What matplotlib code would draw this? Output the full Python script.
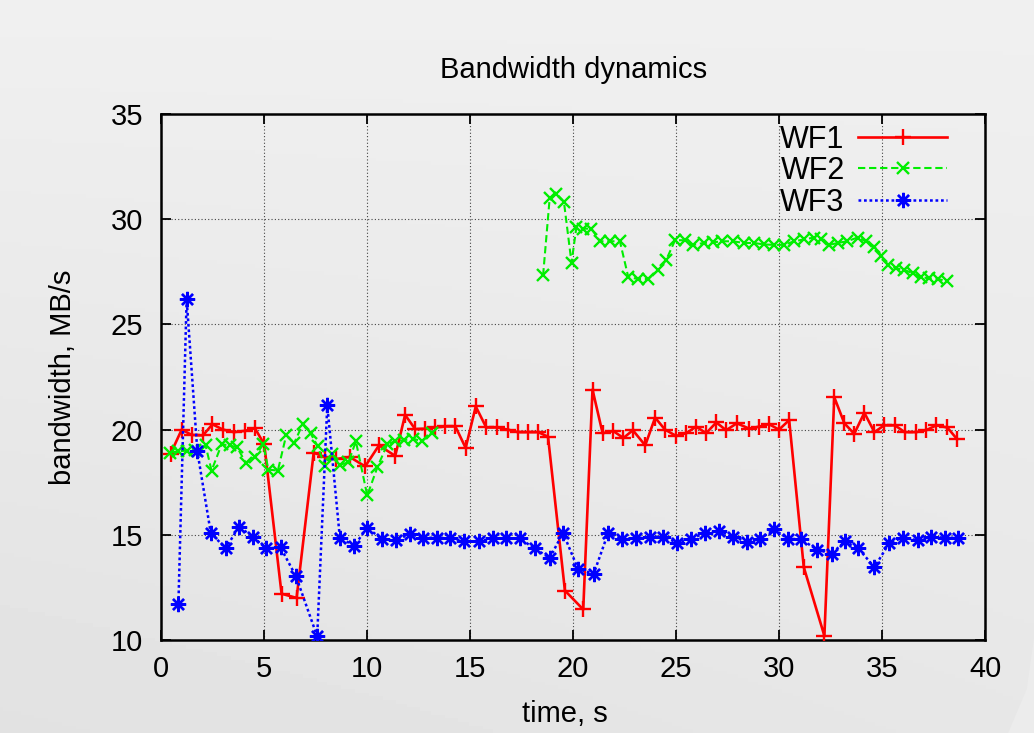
import numpy as np
import matplotlib
matplotlib.use("Agg")
import matplotlib.pyplot as plt
from matplotlib.patches import Polygon

plt.rcParams['font.family'] = ['Liberation Sans', 'DejaVu Sans']

# ---------------- data ----------------
wf1_t = [0.45, 0.99, 1.47, 2.02, 2.48, 3.0, 3.52, 4.06, 4.55, 5.0,
         5.84, 6.57, 7.4, 7.95, 8.5, 9.15, 9.9, 10.57, 11.36, 11.84,
         12.33, 12.8, 13.3, 13.8, 14.28, 14.78, 15.27, 15.78, 16.3, 16.83,
         17.32, 17.8, 18.3, 18.78, 19.6, 20.49, 20.94, 21.43, 21.95, 22.44,
         22.9, 23.5, 23.98, 24.46, 25.0, 25.49, 25.97, 26.46, 26.95, 27.43,
         27.95, 28.54, 29.03, 29.5, 30.0, 30.49, 31.2, 32.2, 32.68, 33.17,
         33.65, 34.14, 34.63, 35.1, 35.63, 36.1, 36.65, 37.14, 37.63, 38.17,
         38.65]
wf1_bw = [18.85, 20.0, 19.75, 19.72, 20.25, 20.0, 19.88, 19.94, 20.06, 19.3,
          12.2, 12.0, 18.9, 18.7, 18.6, 18.7, 18.25, 19.25, 18.75, 20.7,
          20.02, 20.04, 20.1, 20.15, 20.15, 19.13, 21.1, 20.1, 20.1, 20.0,
          19.88, 19.88, 19.88, 19.66, 12.35, 11.45, 21.9, 19.83, 19.93, 19.6,
          19.97, 19.25, 20.57, 20.0, 19.7, 19.83, 20.14, 19.83, 20.34, 19.97,
          20.3, 20.05, 20.14, 20.26, 20.0, 20.45, 13.46, 10.2, 21.54, 20.3,
          19.8, 20.8, 19.88, 20.2, 20.2, 19.88, 19.88, 19.97, 20.2, 20.1,
          19.54]

wf2_t_a = [0.42, 0.83, 1.23, 1.66, 2.15, 2.44, 2.93, 3.33, 3.69, 4.11,
           4.55, 4.95, 5.2, 5.66, 6.07, 6.45, 6.86, 7.25, 7.6, 7.94,
           8.27, 8.67, 9.08, 9.45, 10.0, 10.49, 10.98, 11.35, 11.79, 12.24,
           12.65, 13.14]
wf2_bw_a = [18.9, 18.97, 19.0, 19.05, 19.25, 18.05, 19.3, 19.25, 19.15, 18.4,
            18.72, 19.3, 18.1, 18.05, 19.75, 19.35, 20.25, 19.82, 19.2, 18.25,
            18.84, 18.33, 18.44, 19.44, 16.87, 18.2, 19.32, 19.44, 19.5, 19.57,
            19.44, 19.84]
wf2_t_b = [18.54, 18.86, 19.19, 19.55, 19.92, 20.16, 20.49, 20.89, 21.3, 21.79,
           22.27, 22.68, 23.17, 23.65, 24.14, 24.51, 24.95, 25.41, 25.84, 26.33,
           26.78, 27.25, 27.75, 28.3, 28.78, 29.27, 29.76, 30.24, 30.73, 31.22,
           31.7, 32.03, 32.44, 32.84, 33.3, 33.81, 34.22, 34.63, 34.95, 35.28,
           35.68, 36.09, 36.5, 36.9, 37.3, 37.71, 38.15]
wf2_bw_b = [27.33, 31.0, 31.2, 30.84, 27.93, 29.64, 29.55, 29.55, 28.95, 28.95,
            28.95, 27.24, 27.16, 27.16, 27.59, 28.05, 29.0, 29.0, 28.78, 28.87,
            28.9, 28.95, 28.95, 28.87, 28.87, 28.8, 28.78, 28.78, 28.95, 29.04,
            29.13, 29.04, 28.78, 28.87, 28.95, 29.13, 28.95, 28.7, 28.27, 27.84,
            27.67, 27.59, 27.42, 27.24, 27.19, 27.16, 27.05]

wf3_t = [0.83, 1.23, 1.75, 2.4, 3.12, 3.77, 4.47, 5.08, 5.79, 6.54,
         7.57, 8.06, 8.67, 9.37, 10.0, 10.7, 11.39, 12.07, 12.72, 13.37,
         14.03, 14.72, 15.42, 16.1, 16.75, 17.4, 18.13, 18.86, 19.51, 20.24,
         21.0, 21.7, 22.35, 23.05, 23.73, 24.38, 25.06, 25.71, 26.41, 27.06,
         27.78, 28.43, 29.07, 29.76, 30.45, 31.05, 31.83, 32.55, 33.2, 33.85,
         34.63, 35.36, 36.0, 36.74, 37.39, 38.04, 38.68]
wf3_bw = [11.7, 26.2, 18.97, 15.1, 14.35, 15.38, 14.9, 14.35, 14.4, 13.03,
          10.17, 21.16, 14.86, 14.48, 15.34, 14.8, 14.74, 15.03, 14.86, 14.86,
          14.85, 14.69, 14.69, 14.83, 14.83, 14.83, 14.35, 13.9, 15.09, 13.37,
          13.15, 15.09, 14.8, 14.83, 14.91, 14.91, 14.62, 14.8, 15.09, 15.17,
          14.91, 14.66, 14.8, 15.26, 14.8, 14.8, 14.3, 14.1, 14.69, 14.35,
          13.46, 14.62, 14.86, 14.74, 14.91, 14.86, 14.86]

x_ticks = [0, 5, 10, 15, 20, 25, 30, 35, 40]
y_ticks = [10, 15, 20, 25, 30, 35]
series_labels = ["WF1", "WF2", "WF3"]
title = "Bandwidth dynamics"
xlabel = "time, s"
ylabel = "bandwidth, MB/s"

# ---------------- figure ----------------
W, H = 1034, 733
fig = plt.figure(figsize=(W / 100, H / 100), dpi=100)

# background gradient
bg = fig.add_axes([0, 0, 1, 1], zorder=-10)
yy, xx = np.mgrid[0:1:200j, 0:1:300j]
val = 0.94 - 0.035 * yy - 0.02 * (1 - xx) * yy
bg.imshow(val, cmap='gray', vmin=0, vmax=1, aspect='auto',
          extent=[0, 1, 0, 1], origin='upper')
wedge = Polygon([[0.975, 0.0], [1.0, 0.0], [1.0, 0.13], [0.993, 0.06]],
                closed=True, facecolor='#ececec', edgecolor='none',
                transform=bg.transAxes)
bg.add_patch(wedge)
bg.set_xlim(0, 1)
bg.set_ylim(0, 1)
bg.axis('off')

left, right, top, bottom = 161.3, 985, 114, 640
ax = fig.add_axes([left / W, 1 - bottom / H, (right - left) / W, (bottom - top) / H])
ax.set_facecolor('none')

t2 = wf2_t_a + [np.nan] + wf2_t_b
b2 = wf2_bw_a + [np.nan] + wf2_bw_b

ax.plot(wf1_t, wf1_bw, color='#ff0000', lw=1.9, ls='-', marker='+',
        ms=11, mew=1.7, label=series_labels[0], zorder=3)
ax.plot(t2, b2, color='#00ee00', lw=1.5, ls=(0, (3.5, 1.8)), marker='x',
        ms=9, mew=1.7, label=series_labels[1], zorder=4)
ax.plot(wf3_t, wf3_bw, color='#0000ff', lw=1.8, ls=(0, (1.1, 1.1)),
        marker=(8, 2, 0), ms=11, mew=1.7, label=series_labels[2], zorder=5)

ax.set_xlim(0, 40)
ax.set_ylim(10, 35)
ax.set_xticks(x_ticks)
ax.set_yticks(y_ticks)
ax.set_xticklabels([str(v) for v in x_ticks])
ax.set_yticklabels([str(v) for v in y_ticks])

ax.grid(True, color='#444444', ls=(0, (1, 2)), lw=0.8)
ax.set_axisbelow(True)
for s in ax.spines.values():
    s.set_linewidth(1.8)
    s.set_color('black')
ax.tick_params(direction='in', length=7, width=1.3, top=True, right=True,
               labelsize=21, colors='black')
ax.tick_params(axis='x', pad=11)
ax.tick_params(axis='y', pad=13)

ax.set_title(title, fontsize=21, pad=26)
ax.set_xlabel(xlabel, fontsize=21)
ax.set_ylabel(ylabel, fontsize=21)
ax.xaxis.set_label_coords(0.49, -0.115)
ax.yaxis.set_label_coords(-0.102, 0.5)

leg = ax.legend(loc='upper right', bbox_to_anchor=(0.9539, 0.98),
                frameon=False, fontsize=22, markerfirst=False,
                handlelength=2.9, handletextpad=0.45, labelspacing=0.05,
                borderpad=0, borderaxespad=0)

fig.savefig('out.png', dpi=100)
